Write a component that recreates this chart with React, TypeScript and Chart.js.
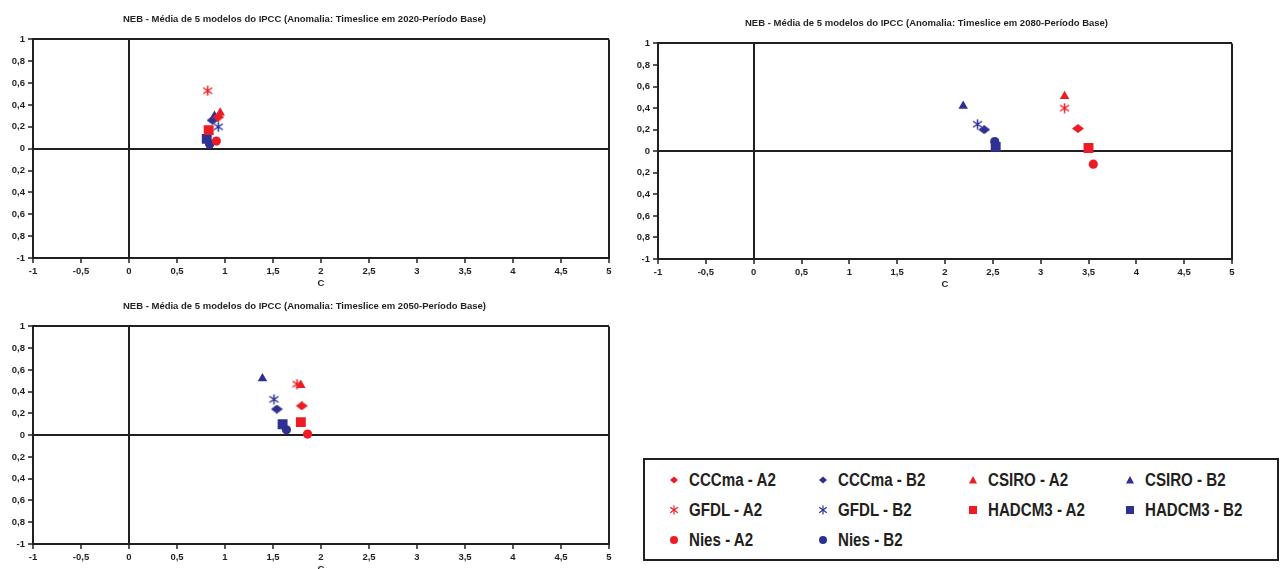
import React, { useEffect, useRef } from 'react';
import { Chart, registerables } from 'chart.js';

Chart.register(...registerables);

const RED = '#ED1C24';
const BLUE = '#2E3192';
const INK = '#231F20';
const FONT = "'Liberation Sans', Arial, Helvetica, sans-serif";

const seriesNames = ['CCCma - A2', 'CCCma - B2', 'CSIRO - A2', 'CSIRO - B2', 'GFDL - A2', 'GFDL - B2', 'HADCM3 - A2', 'HADCM3 - B2', 'Nies - A2', 'Nies - B2'];
const seriesColors = [RED, BLUE, RED, BLUE, RED, BLUE, RED, BLUE, RED, BLUE];
const seriesShapes = ['diamond', 'diamond', 'triangle', 'triangle', 'star', 'star', 'square', 'square', 'circle', 'circle'];

// Timeslice 2020
const x2020 = [0.93, 0.87, 0.95, 0.89, 0.82, 0.93, 0.83, 0.81, 0.91, 0.84];
const y2020 = [0.29, 0.26, 0.33, 0.30, 0.53, 0.20, 0.17, 0.09, 0.07, 0.04];
// Timeslice 2080
const x2080 = [3.39, 2.41, 3.25, 2.19, 3.25, 2.34, 3.50, 2.53, 3.55, 2.52];
const y2080 = [0.21, 0.20, 0.51, 0.42, 0.40, 0.25, 0.03, 0.04, -0.12, 0.09];
// Timeslice 2050
const x2050 = [1.80, 1.54, 1.79, 1.39, 1.75, 1.51, 1.79, 1.60, 1.86, 1.64];
const y2050 = [0.27, 0.24, 0.46, 0.52, 0.47, 0.33, 0.12, 0.10, 0.01, 0.05];

const xTickLabels = ['-1', '-0,5', '0', '0,5', '1', '1,5', '2', '2,5', '3', '3,5', '4', '4,5', '5'];
const yTickLabels = ['-1', '0,8', '0,6', '0,4', '0,2', '0', '0,2', '0,4', '0,6', '0,8', '1'];

const title2020 = 'NEB - Média de 5 modelos do IPCC (Anomalia: Timeslice em 2020-Período Base)';
const title2080 = 'NEB - Média de 5 modelos do IPCC (Anomalia: Timeslice em 2080-Período Base)';
const title2050 = 'NEB - Média de 5 modelos do IPCC (Anomalia: Timeslice em 2050-Período Base)';

function makeDiamond(color: string): HTMLCanvasElement {
  const c = document.createElement('canvas');
  c.width = 12; c.height = 9;
  const g = c.getContext('2d')!;
  g.fillStyle = color;
  g.beginPath();
  g.moveTo(6, 0); g.lineTo(12, 4.5); g.lineTo(6, 9); g.lineTo(0, 4.5);
  g.closePath(); g.fill();
  return c;
}

function makeStar(color: string): HTMLCanvasElement {
  const c = document.createElement('canvas');
  c.width = 11; c.height = 11;
  const g = c.getContext('2d')!;
  g.strokeStyle = color;
  g.lineWidth = 1.5;
  g.beginPath();
  g.moveTo(5.5, 0.5); g.lineTo(5.5, 10.5);
  g.moveTo(1, 2.5); g.lineTo(10, 8.5);
  g.moveTo(10, 2.5); g.lineTo(1, 8.5);
  g.stroke();
  return c;
}

function pointStyleFor(shape: string, color: string): any {
  if (shape === 'diamond') return makeDiamond(color);
  if (shape === 'star') return makeStar(color);
  if (shape === 'square') return 'rect';
  return shape;
}

function radiusFor(shape: string): number {
  if (shape === 'square') return 7;
  if (shape === 'triangle') return 5.5;
  if (shape === 'circle') return 4.6;
  return 6;
}

type ChartProps = {
  title: string;
  xs: number[];
  ys: number[];
  left: number;
  top: number;
  width: number;
  height: number;
  yWidth: number;
  padRight: number;
  titleTop: number;
};

function Scatter(p: ChartProps) {
  const ref = useRef<HTMLCanvasElement | null>(null);
  useEffect(() => {
    if (!ref.current) return;
    const tickFont = { family: FONT, size: 9.5, weight: 'bold' as const };
    const isEdge = (v: number, max: number) => Math.abs(v) < 1e-9 || Math.abs(v - max) < 1e-9;
    const chart = new Chart(ref.current, {
      type: 'scatter',
      data: {
        datasets: seriesNames.map((name, i) => ({
          label: name,
          data: [{ x: p.xs[i], y: p.ys[i] }],
          pointStyle: pointStyleFor(seriesShapes[i], seriesColors[i]),
          pointRadius: radiusFor(seriesShapes[i]),
          backgroundColor: seriesColors[i],
          borderColor: seriesColors[i],
          borderWidth: 0,
        })),
      },
      options: {
        animation: false,
        responsive: false,
        maintainAspectRatio: false,
        layout: { padding: { left: 0, right: p.padRight, top: 0, bottom: 6 } },
        plugins: {
          legend: { display: false },
          tooltip: { enabled: false },
          title: {
            display: true,
            text: p.title,
            color: INK,
            font: { family: FONT, size: 9.5, weight: 'bold' },
            padding: { top: p.titleTop, bottom: 14 },
          },
        },
        scales: {
          x: {
            type: 'linear',
            min: -1,
            max: 5,
            ticks: {
              stepSize: 0.5,
              color: INK,
              font: tickFont,
              padding: 3,
              maxRotation: 0,
              autoSkip: false,
              callback: (_v: any, i: number) => xTickLabels[i],
            },
            grid: {
              color: (ctx: any) => (ctx.tick && isEdge(ctx.tick.value, 5) ? INK : 'rgba(0,0,0,0)'),
              lineWidth: 2,
              tickColor: INK,
              tickLength: 5,
              tickWidth: 1.5,
            },
            border: { display: true, color: INK, width: 2 },
            title: { display: true, text: 'C', color: INK, font: tickFont, padding: { top: 0, bottom: 0 } },
            afterFit: (s: any) => { s.height = 31; },
          },
          y: {
            type: 'linear',
            min: -1,
            max: 1,
            ticks: {
              stepSize: 0.2,
              color: INK,
              font: tickFont,
              padding: 3,
              autoSkip: false,
              callback: (_v: any, i: number) => yTickLabels[i],
            },
            grid: {
              color: (ctx: any) => (ctx.tick && isEdge(ctx.tick.value, 1) ? INK : 'rgba(0,0,0,0)'),
              lineWidth: 2,
              tickColor: INK,
              tickLength: 5,
              tickWidth: 1.5,
            },
            border: { display: true, color: INK, width: 2 },
            afterFit: (s: any) => { s.width = p.yWidth; },
          },
        },
      } as any,
    });
    return () => chart.destroy();
  }, []);
  return (
    <canvas
      ref={ref}
      width={p.width}
      height={p.height}
      style={{ position: 'absolute', left: p.left, top: p.top, width: p.width, height: p.height }}
    />
  );
}

function LegendMarker({ shape, color }: { shape: string; color: string }) {
  let el: React.ReactNode = null;
  if (shape === 'diamond') el = <polygon points="5,1.5 9,5 5,8.5 1,5" fill={color} />;
  else if (shape === 'triangle') el = <polygon points="5,1 9,8.5 1,8.5" fill={color} />;
  else if (shape === 'square') el = <rect x="1" y="1" width="8" height="8" fill={color} />;
  else if (shape === 'circle') el = <circle cx="5" cy="5" r="4" fill={color} />;
  else
    el = (
      <g stroke={color} strokeWidth="1.2">
        <line x1="5" y1="0.5" x2="5" y2="9.5" />
        <line x1="1.2" y1="2.3" x2="8.8" y2="7.7" />
        <line x1="8.8" y1="2.3" x2="1.2" y2="7.7" />
      </g>
    );
  return (
    <svg width="10" height="10" viewBox="0 0 10 10" style={{ display: 'block' }}>
      {el}
    </svg>
  );
}

const legendColX = [29, 178, 328, 485];
const legendRowY = [20, 50, 80];

function Legend() {
  return (
    <div
      style={{
        position: 'absolute',
        left: 643,
        top: 458,
        width: 636,
        height: 103,
        border: `2px solid ${INK}`,
        boxSizing: 'border-box',
        background: '#fff',
      }}
    >
      {seriesNames.map((name, i) => {
        const col = i % 4;
        const row = Math.floor(i / 4);
        const cx = legendColX[col];
        const cy = legendRowY[row];
        return (
          <React.Fragment key={name}>
            <div style={{ position: 'absolute', left: cx - 5, top: cy - 5 }}>
              <LegendMarker shape={seriesShapes[i]} color={seriesColors[i]} />
            </div>
            <div
              style={{
                position: 'absolute',
                left: cx + 15,
                top: cy - 11,
                height: 22,
                lineHeight: '22px',
                fontFamily: FONT,
                fontWeight: 'bold',
                fontSize: 18,
                color: INK,
                whiteSpace: 'nowrap',
                transform: 'scaleX(0.84)',
                transformOrigin: 'left center',
              }}
            >
              {name}
            </div>
          </React.Fragment>
        );
      })}
    </div>
  );
}

export default function App() {
  return (
    <div
      style={{
        position: 'fixed',
        left: 0,
        top: 0,
        width: 1280,
        height: 569,
        overflow: 'hidden',
        background: '#fff',
      }}
    >
      <Scatter title={title2020} xs={x2020} ys={y2020} left={0} top={0} width={640} height={295} yWidth={33} padRight={31} titleTop={14} />
      <Scatter title={title2080} xs={x2080} ys={y2080} left={621} top={3} width={659} height={293} yWidth={37} padRight={48} titleTop={15} />
      <Scatter title={title2050} xs={x2050} ys={y2050} left={0} top={287} width={640} height={294} yWidth={33} padRight={31} titleTop={14} />
      <Legend />
    </div>
  );
}
